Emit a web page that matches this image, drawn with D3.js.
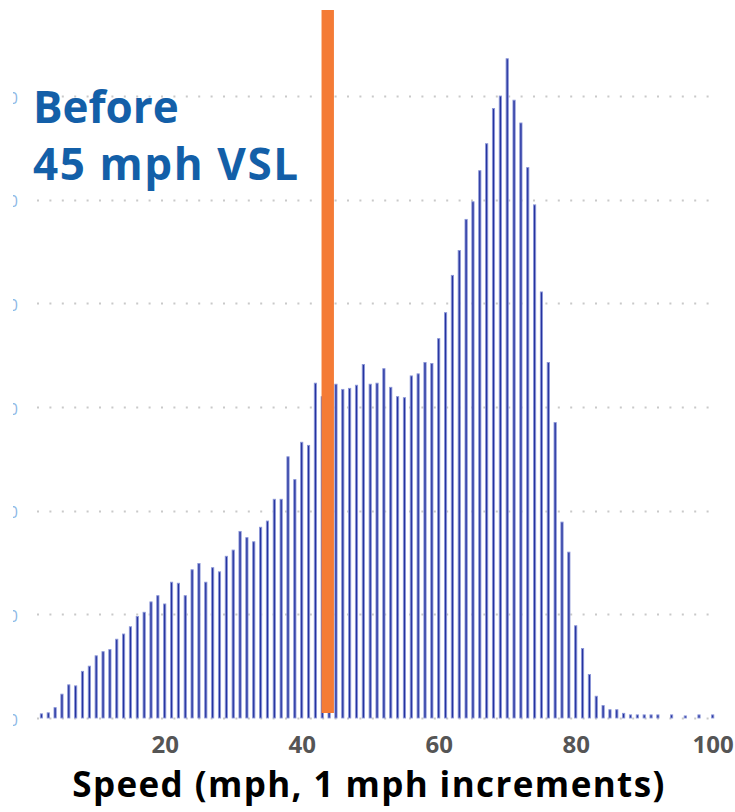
<!DOCTYPE html>
<html>
<head>
<meta charset="utf-8">
<script src="https://cdn.jsdelivr.net/npm/d3@7"></script>
<style>
  html, body { margin: 0; padding: 0; background: #ffffff; }
  svg { display: block; }
</style>
</head>
<body>
<svg id="chart" width="735" height="812"></svg>
<script>
// Speed distribution, 1 mph bins (observation counts per bin)
const speeds = [2, 3, 4, 5, 6, 7, 8, 9, 10, 11, 12, 13, 14, 15, 16, 17, 18, 19, 20,
  21, 22, 23, 24, 25, 26, 27, 28, 29, 30, 31, 32, 33, 34, 35, 36, 37, 38, 39, 40,
  41, 42, 43, 44, 45, 46, 47, 48, 49, 50, 51, 52, 53, 54, 55, 56, 57, 58, 59, 60,
  61, 62, 63, 64, 65, 66, 67, 68, 69, 70, 71, 72, 73, 74, 75, 76, 77, 78, 79, 80,
  81, 82, 83, 84, 85, 86, 87, 88, 89, 90, 91, 92, 94, 96, 98, 100];
const counts = [40, 50, 100, 230, 320, 310, 450, 500, 600, 640, 660, 760, 810, 880, 980, 1020, 1120, 1180, 1100,
  1310, 1300, 1180, 1430, 1490, 1310, 1450, 1410, 1560, 1620, 1800, 1740, 1700, 1840, 1900, 2110, 2110, 2520, 2300, 2660,
  2630, 3230, 3100, 4050, 3220, 3170, 3180, 3210, 3410, 3220, 3230, 3370, 3190, 3100, 3090, 3300, 3320, 3430, 3420, 3660,
  3910, 4270, 4510, 4810, 4980, 5280, 5540, 5880, 6000, 6360, 5960, 5740, 5310, 4950, 4110, 3430, 2850, 1890, 1600, 890,
  670, 420, 210, 120, 80, 80, 45, 30, 30, 30, 30, 30, 30, 20, 30, 30];

const xTicks = [20, 40, 60, 80, 100];
const yTicks = [0, 1000, 2000, 3000, 4000, 5000, 6000];

// Speed limit marker drawn across the distribution
const markerSpeed = 43.8;

const titleLines = ["Before", "45 mph VSL"];
const xTitle = "Speed (mph, 1 mph increments)";

const svg = d3.select("#chart");

const x = d3.scaleLinear().domain([0, 100]).range([27.7, 712.7]);
const y = d3.scaleLinear().domain([0, 6830]).range([718, 10]);

// dotted horizontal gridlines
svg.append("g")
  .selectAll("line")
  .data(yTicks)
  .join("line")
  .attr("x1", 37).attr("x2", 712)
  .attr("y1", d => Math.round(y(d)) + 0.5)
  .attr("y2", d => Math.round(y(d)) + 0.5)
  .attr("stroke", "#c9c9c9")
  .attr("stroke-width", 2)
  .attr("stroke-dasharray", "2,10.4");

// y-axis labels, cut off at the left edge of the panel
svg.append("defs").append("clipPath").attr("id", "yclip")
  .append("rect").attr("x", 13).attr("y", 0).attr("width", 30).attr("height", 812);

const yAxis = d3.axisLeft(y).tickValues(yTicks).tickSize(0).tickPadding(0).tickFormat(d3.format("d"));
svg.append("g")
  .attr("clip-path", "url(#yclip)")
  .append("g")
  .attr("transform", "translate(18,0)")
  .call(yAxis)
  .call(g => g.select(".domain").remove())
  .call(g => g.selectAll("text")
    .attr("font-family", "'Open Sans', sans-serif")
    .attr("font-size", 16)
    .attr("dy", "0.45em")
    .attr("fill", "#8db8e6"));

// histogram bars
const data = speeds.map((s, i) => ({ speed: s, count: counts[i] }));
svg.append("g")
  .selectAll("rect")
  .data(data)
  .join("rect")
  .attr("x", d => x(d.speed) - 1.1)
  .attr("width", 2.2)
  .attr("y", d => y(d.count))
  .attr("height", d => y(0) - y(d.count))
  .attr("fill", "#25339f")
  .attr("stroke", "#8c97d8")
  .attr("stroke-width", 0.9);

// orange marker
svg.append("rect")
  .attr("x", x(markerSpeed) - 6.2)
  .attr("width", 12.4)
  .attr("y", y.range()[1])
  .attr("height", y(0) - 5 - y.range()[1])
  .attr("fill", "#f47b36");

// x axis labels
const xAxis = d3.axisBottom(x).tickValues(xTicks).tickSize(0).tickPadding(0).tickFormat(d3.format("d"));
svg.append("g")
  .attr("transform", "translate(0,731)")
  .call(xAxis)
  .call(g => g.select(".domain").remove())
  .call(g => g.selectAll("text")
    .attr("dy", "0.9em")
    .attr("font-family", "'Open Sans', sans-serif")
    .attr("font-weight", 700)
    .attr("font-size", 24)
    .attr("fill", "#555555"));

// in-chart label
svg.append("g")
  .selectAll("text")
  .data(titleLines)
  .join("text")
  .attr("x", 33)
  .attr("y", (d, i) => 123 + i * 57)
  .attr("font-family", "'Open Sans', sans-serif")
  .attr("font-weight", 700)
  .attr("font-size", 44)
  .attr("letter-spacing", (d, i) => i === 0 ? 0 : 1.6)
  .attr("fill", "#135fa8")
  .text(d => d);

// axis title
svg.append("text")
  .attr("x", 369)
  .attr("y", 797)
  .attr("text-anchor", "middle")
  .attr("font-family", "'Open Sans', sans-serif")
  .attr("font-weight", 700)
  .attr("font-size", 35)
  .attr("letter-spacing", 1.4)
  .attr("fill", "#000000")
  .text(xTitle);
</script>
</body>
</html>
